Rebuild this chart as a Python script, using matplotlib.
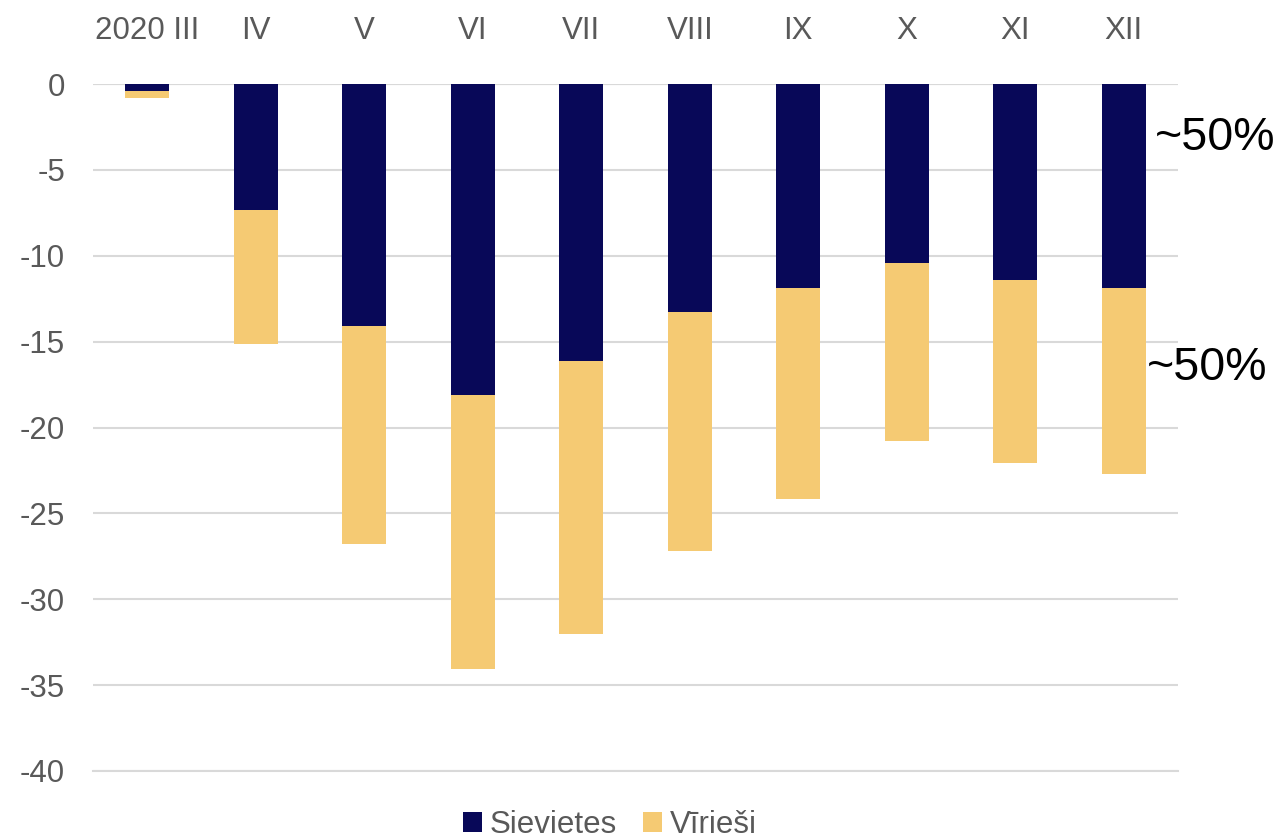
import matplotlib
matplotlib.use("Agg")
import matplotlib.pyplot as plt
import numpy as np

categories = ["2020 III", "IV", "V", "VI", "VII", "VIII", "IX", "X", "XI", "XII"]
sievietes = [-0.4, -7.35, -14.1, -18.1, -16.15, -13.3, -11.85, -10.45, -11.4, -11.9]
virisi = [-0.4, -7.8, -12.7, -15.95, -15.9, -13.9, -12.3, -10.35, -10.65, -10.8]
series_names = ["Sievietes", "Vīrieši"]
yticks = [0, -5, -10, -15, -20, -25, -30, -35, -40]

plt.rcParams['font.family'] = ['Liberation Sans', 'DejaVu Sans']
fig = plt.figure(figsize=(12.74, 8.4), dpi=100)
ax = fig.add_axes([93/1274, 1-771/840, (1178-93)/1274, (771-84)/840])

x = np.arange(len(categories))
navy = "#080858"
gold = "#F5CA73"
ax.bar(x, sievietes, width=0.405, color=navy, label=series_names[0], zorder=3)
ax.bar(x, virisi, width=0.405, bottom=sievietes, color=gold, label=series_names[1], zorder=3)

ax.set_xlim(-0.5, len(categories) - 0.5)
ax.set_ylim(-40, 0)
ax.set_yticks(yticks)
ax.set_yticklabels([str(v) for v in yticks])
ax.yaxis.grid(True, color="#d9d9d9", linewidth=1.5, zorder=0)
ax.set_axisbelow(True)
for s in ax.spines.values():
    s.set_visible(False)
ax.axhline(0, color="#d9d9d9", linewidth=1.5, zorder=1)
ax.axhline(-40, color="#d9d9d9", linewidth=1.5, zorder=1, clip_on=False)

ax.xaxis.tick_top()
ax.set_xticks(x)
ax.set_xticklabels(categories)
ax.tick_params(axis='x', length=0, pad=27.5, labelsize=22.5, labelcolor="#595959")
ax.tick_params(axis='y', length=0, pad=20, labelsize=22.5, labelcolor="#595959")

fig.text(1155/1274, 1-138/840, "~50%", fontsize=33.5, color="black", ha="left", va="center")
fig.text(1147/1274, 1-368/840, "~50%", fontsize=33.5, color="black", ha="left", va="center")

leg = fig.legend(loc="center", bbox_to_anchor=(610/1274, 1-825/840), ncol=2, frameon=False,
                 fontsize=22.5, handlelength=0.6, handleheight=0.6, handletextpad=0.25,
                 columnspacing=0.85, labelcolor="#595959")

fig.savefig("out.png", dpi=100)
